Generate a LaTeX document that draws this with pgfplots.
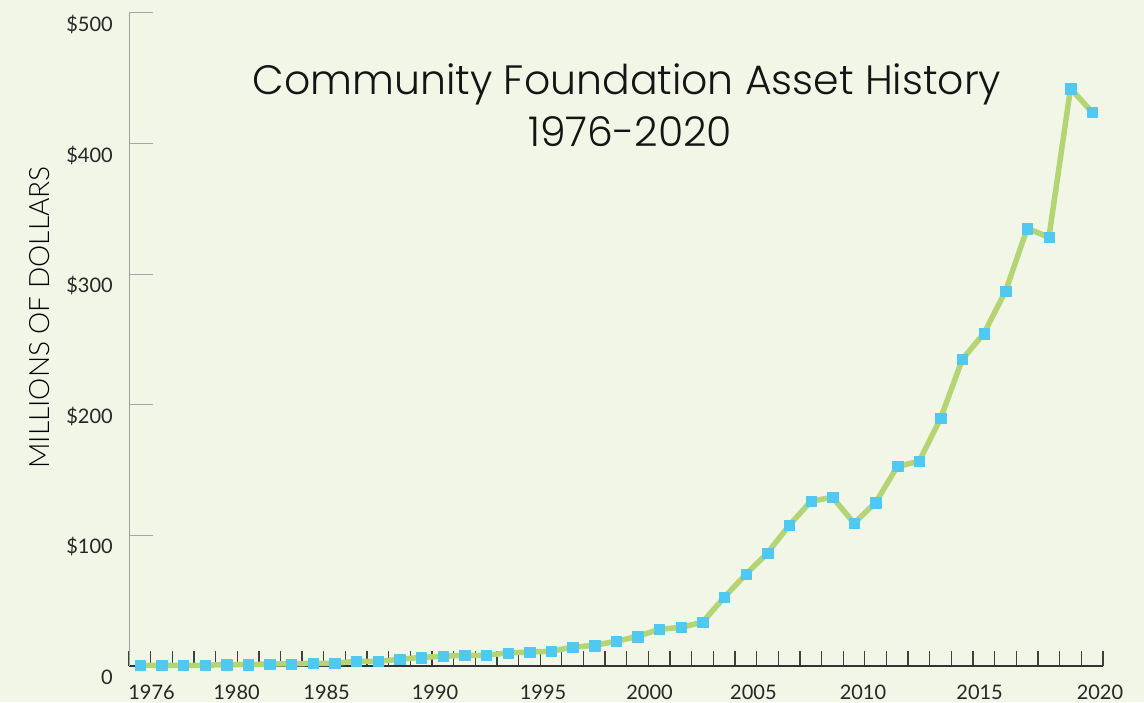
\documentclass[border=0pt]{standalone}
\usepackage{pgfplots}
\pgfplotsset{compat=1.18}
\usepackage{fontspec}
\setmainfont{Lato}
\newfontfamily\titlefont{Poppins Light}
\newfontfamily\labelfont{Lato Light}
\definecolor{bg}{RGB}{242,246,230}
\definecolor{linegreen}{RGB}{181,213,117}
\definecolor{markblue}{RGB}{79,200,242}
\begin{document}
\begin{tikzpicture}[x=1pt,y=1pt]
\fill[bg] (0,0) rectangle (1144,702);
\useasboundingbox (0,0) rectangle (1144,702);
\begin{axis}[
  at={(129pt,36pt)}, anchor=south west,
  scale only axis, width=974pt, height=653pt,
  xmin=1975.5, xmax=2020.5, ymin=0, ymax=500,
  axis x line*=bottom, axis y line*=left,
  x axis line style={draw=black!80, line width=1.4pt, -},
  y axis line style={draw=black!38, line width=1pt, -},
  tick align=inside,
  major tick length=15pt,
  xtick={1975.5,1976.5,...,2020.5},
  xticklabels={},
  xtick style={draw=black!75, line width=1.3pt},
  ytick={0,100,200,300,400,500},
  yticklabels={0,\$100,\$200,\$300,\$400,\$500},
  ytick style={draw=none},
  extra y ticks={100,200,300,400,500}, extra y tick labels={},
  extra y tick style={major tick length=24pt, ytick style={draw=black!35, line width=1pt}},
  extra x ticks={1976.54,1980.47,1984.63,1989.64,1994.63,1999.55,2004.35,2009.41,2014.8,2020.36},
  extra x tick labels={1976,1980,1985,1990,1995,2000,2005,2010,2015,2020},
  extra x tick style={major tick length=0pt},
  xticklabel style={anchor=base, inner sep=0pt, yshift=-33pt},
  yticklabel style={anchor=base east, inner sep=0pt, xshift=-16pt, yshift=-18.5pt},
  tick label style={font=\fontsize{20}{24}\selectfont, text=black!85},
  /pgf/number format/assume math mode=true,
  clip=false,
]
\addplot[color=linegreen, line width=5.5pt, line join=round,
  mark=square*, mark size=5.2pt,
  mark options={draw=markblue, fill=markblue, line width=0.1pt}]
  coordinates {
  (1976,0.5) (1977,0.5) (1978,0.5) (1979,0.6) (1980,1.0)
  (1981,1.0) (1982,1.6) (1983,1.6) (1984,2.1) (1985,2.1)
  (1986,3.6) (1987,3.6) (1988,5.1) (1989,6.6) (1990,7.4)
  (1991,8.2) (1992,8.2) (1993,10.0) (1994,10.7) (1995,11.3)
  (1996,14.4) (1997,15.8) (1998,18.9) (1999,22.7) (2000,28.1)
  (2001,29.6) (2002,33.5) (2003,52.6) (2004,70.2) (2005,86.5)
  (2006,107.7) (2007,126.1) (2008,129.2) (2009,109.3) (2010,125.3)
  (2011,152.9) (2012,156.7) (2013,189.7) (2014,234.8) (2015,254.7)
  (2016,287.1) (2017,335.1) (2018,328.3) (2019,442.3) (2020,424.0)
  };
\end{axis}
\node[anchor=base, font=\titlefont\fontsize{41}{50}\selectfont, text=black!92] at (627,607) {Community Foundation Asset History};
\node[anchor=base, font=\titlefont\fontsize{41}{50}\selectfont, text=black!92] at (630,555) {1976-2020};
\node[rotate=90, font=\labelfont\fontsize{28}{30}\selectfont, text=black] at (40,384.5) {MILLIONS OF DOLLARS};
\end{tikzpicture}
\end{document}
